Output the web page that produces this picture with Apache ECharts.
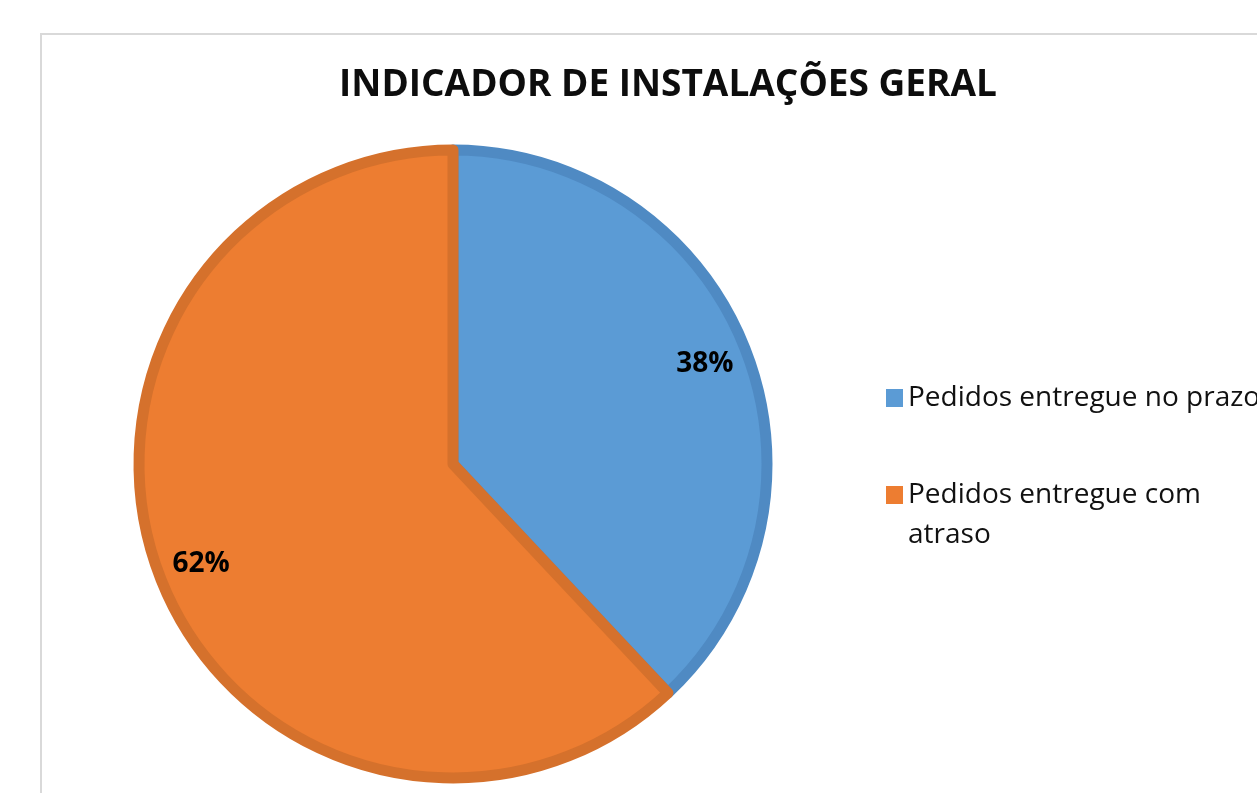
<!DOCTYPE html>
<html lang="pt">
<head>
    <meta charset="UTF-8">
    <title>Indicador de instalações geral</title>
    <style type="text/css">
        *{
            margin: 0;
            padding: 0;
        }
        #main{
            width: 1257px;
            height: 793px;
            background: #fff;
        }
    </style>
</head>
<body>
    <div id="main"></div>
    <script src="https://cdn.jsdelivr.net/npm/echarts@6/dist/echarts.min.js"></script>
    <script type="text/javascript">
        var myChart = echarts.init(document.getElementById('main'));

        // dados
        var categories = ['Pedidos entregue no prazo', 'Pedidos entregue com atraso'];
        var values = [38, 62];
        // texto da legenda como aparece (o segundo quebra em duas linhas)
        var legendLabels = ['Pedidos entregue no prazo', '\nPedidos entregue com\natraso'];
        var fillColors = ['#5b9bd5', '#ed7d31'];
        var edgeColors = ['#4f8ac3', '#d5712c'];

        var pieData = categories.map(function (name, i) {
            return {
                name: name,
                value: values[i],
                itemStyle: { color: fillColors[i], borderColor: edgeColors[i] }
            };
        });

        var option = {
            backgroundColor: '#fff',
            title: {
                text: 'INDICADOR DE INSTALAÇÕES GERAL',
                left: 663,
                top: 62,
                textAlign: 'center',
                textStyle: {
                    fontFamily: 'Open Sans',
                    fontWeight: 'bold',
                    fontSize: 37,
                    color: '#0d0d0d'
                }
            },
            graphic: [{
                type: 'rect',
                shape: { x: 41, y: 34, width: 1400, height: 900 },
                style: { fill: 'none', stroke: '#d9d9d9', lineWidth: 2 },
                silent: true
            }],
            legend: {
                orient: 'vertical',
                left: 881,
                top: 373,
                itemGap: 17,
                itemWidth: 17,
                itemHeight: 18,
                icon: 'rect',
                itemStyle: { borderWidth: 0 },
                formatter: function (name) {
                    return legendLabels[categories.indexOf(name)];
                },
                textStyle: {
                    fontFamily: 'Open Sans',
                    fontSize: 28,
                    lineHeight: 40,
                    color: '#111'
                },
                data: categories
            },
            series: [{
                type: 'pie',
                center: [453, 464],
                radius: 314,
                startAngle: 90,
                clockwise: true,
                silent: true,
                label: { show: false },
                labelLine: { show: false },
                itemStyle: { borderWidth: 11 },
                data: pieData
            }, {
                // anel invisível só para posicionar os rótulos
                type: 'pie',
                center: [453, 464],
                radius: [216, 320],
                startAngle: 90,
                clockwise: true,
                silent: true,
                legendHoverLink: false,
                itemStyle: { color: 'rgba(0,0,0,0)', borderWidth: 0 },
                label: {
                    show: true,
                    position: 'inside',
                    formatter: '{d}%',
                    fontFamily: 'Open Sans',
                    fontWeight: 'bold',
                    fontSize: 28,
                    color: '#000'
                },
                labelLine: { show: false },
                data: categories.map(function (name, i) {
                    return { name: name, value: values[i] };
                })
            }]
        };

        myChart.setOption(option);
    </script>
</body>
</html>
